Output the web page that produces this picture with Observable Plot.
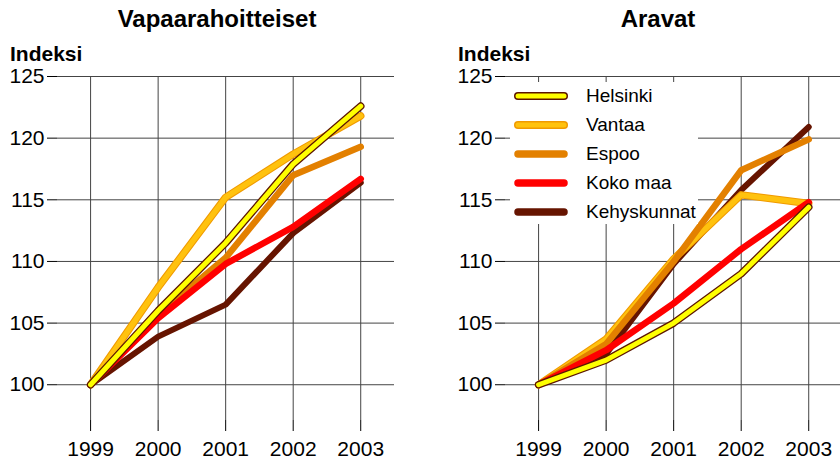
<!DOCTYPE html>
<html>
<head>
<meta charset="utf-8">
<script src="https://cdn.jsdelivr.net/npm/d3@7"></script>
<script src="https://cdn.jsdelivr.net/npm/@observablehq/plot@0.6"></script>
<style>
  html, body { margin: 0; padding: 0; background: #fff; }
  #wrap { position: relative; width: 840px; height: 461px; overflow: hidden;
          font-family: "Liberation Sans", Arial, sans-serif; color: #000; background: #fff; }
  .panel { position: absolute; top: 0; width: 430px; height: 461px; }
  .panel svg { max-width: none !important; }
  .title { position: absolute; top: 7px; font-weight: bold; font-size: 24px; line-height: 24px; text-align: center; }
  .ylab { position: absolute; top: 43px; font-weight: bold; font-size: 21px; line-height: 21px; }
  #legend { position: absolute; left: 510px; top: 82px; width: 188px; height: 142px; background: #fff; }
  .item { position: absolute; left: 0; height: 22px; width: 188px; }
  .item svg { position: absolute; left: 2px; top: 5px; }
  .item span { position: absolute; left: 76px; top: 0; font-size: 19px; line-height: 22px; white-space: nowrap; }
</style>
</head>
<body>
<div id="wrap">
  <div id="left" class="panel" style="left:0px"></div>
  <div id="right" class="panel" style="left:420px"></div>
  <div class="title" style="left:0px;width:434px">Vapaarahoitteiset</div>
  <div class="title" style="left:420px;width:476px">Aravat</div>
  <div class="ylab" style="left:10px">Indeksi</div>
  <div class="ylab" style="left:458px">Indeksi</div>
  <div id="legend"></div>
</div>
<script>
// ---- data ----
const years = [1999, 2000, 2001, 2002, 2003];
const yTicks = [100, 105, 110, 115, 120, 125];
const seriesNames = ["Helsinki", "Vantaa", "Espoo", "Koko maa", "Kehyskunnat"];

// Vapaarahoitteiset
const vapaaHelsinki    = [100, 106.0, 111.5, 117.9, 122.6];
const vapaaVantaa      = [100, 107.9, 115.2, 118.7, 121.8];
const vapaaEspoo       = [100, 105.7, 110.3, 117.0, 119.3];
const vapaaKokoMaa     = [100, 105.4, 109.8, 112.8, 116.7];
const vapaaKehyskunnat = [100, 103.9, 106.5, 112.3, 116.4];

// Aravat
const aravaHelsinki    = [100, 102.0, 105.0, 109.0, 114.4];
const aravaVantaa      = [100, 103.7, 110.2, 115.4, 114.7];
const aravaEspoo       = [100, 103.3, 110.0, 117.4, 119.9];
const aravaKokoMaa     = [100, 102.8, 106.6, 111.0, 114.8];
const aravaKehyskunnat = [100, 102.5, 109.8, 115.8, 120.9];

// ---- styles ----
const styles = {
  "Helsinki":    {outline: "#5c1600", fill: "#ffff00", outer: 7.5, inner: 5},
  "Vantaa":      {outline: "#f09a00", fill: "#ffc20e", outer: 7.5, inner: 5.4},
  "Espoo":       {fill: "#e38000", outer: 6.5},
  "Koko maa":    {fill: "#ff0000", outer: 6.5},
  "Kehyskunnat": {fill: "#661400", outer: 6}
};
const drawOrder = ["Kehyskunnat", "Vantaa", "Espoo", "Koko maa", "Helsinki"];

function rows(values) { return years.map((year, i) => ({year, value: values[i]})); }

function seriesMarks(name, values) {
  const s = styles[name];
  const data = rows(values);
  const common = {x: "year", y: "value", strokeLinecap: "round", strokeLinejoin: "round"};
  const out = [];
  if (s.outline) {
    out.push(Plot.line(data, {...common, stroke: s.outline, strokeWidth: s.outer}));
    out.push(Plot.line(data, {...common, stroke: s.fill, strokeWidth: s.inner}));
  } else {
    out.push(Plot.line(data, {...common, stroke: s.fill, strokeWidth: s.outer}));
  }
  return out;
}

function panel(seriesMap, width, marginLeft, marginRight) {
  return Plot.plot({
    width, height: 461,
    marginTop: 76, marginBottom: 41, marginLeft, marginRight,
    style: {fontFamily: "'Liberation Sans', Arial, sans-serif", fontSize: "21px", color: "#000",
            background: "transparent", overflow: "visible", maxWidth: "none"},
    x: {domain: [1998.51, 2003.5]},
    y: {domain: [97.1, 125]},
    marks: [
      Plot.gridX(years, {stroke: "#444", strokeOpacity: 1, strokeWidth: 1}),
      Plot.gridY(yTicks, {stroke: "#444", strokeOpacity: 1, strokeWidth: 1}),
      Plot.axisX(years, {tickSize: 11, tickPadding: 10, label: null, tickFormat: d => String(d)}),
      Plot.axisY(yTicks, {tickSize: 10, tickPadding: 3, label: null}),
      ...drawOrder.flatMap(n => seriesMarks(n, seriesMap[n]))
    ]
  });
}

const vapaa = {"Helsinki": vapaaHelsinki, "Vantaa": vapaaVantaa, "Espoo": vapaaEspoo, "Koko maa": vapaaKokoMaa, "Kehyskunnat": vapaaKehyskunnat};
const arava = {"Helsinki": aravaHelsinki, "Vantaa": aravaVantaa, "Espoo": aravaEspoo, "Koko maa": aravaKokoMaa, "Kehyskunnat": aravaKehyskunnat};

document.getElementById("left").append(panel(vapaa, 420, 57, 26));
document.getElementById("right").append(panel(arava, 425, 85, 3));

// ---- legend ----
const legend = document.getElementById("legend");
seriesNames.forEach((name, i) => {
  const s = styles[name];
  const item = document.createElement("div");
  item.className = "item";
  item.style.top = (3 + i * 28.9) + "px";
  const lineEl = (stroke, w) => `<line x1="6" y1="6" x2="52" y2="6" stroke="${stroke}" stroke-width="${w}" stroke-linecap="round"/>`;
  const svg = s.outline
    ? lineEl(s.outline, 8) + lineEl(s.fill, 5)
    : lineEl(s.fill, 7.5);
  item.innerHTML = `<svg width="60" height="12">${svg}</svg><span>${name}</span>`;
  legend.append(item);
});
</script>
</body>
</html>
